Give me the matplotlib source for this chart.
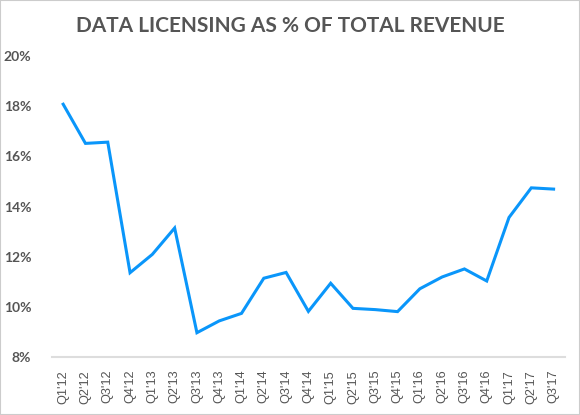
import matplotlib
matplotlib.use('Agg')
import matplotlib.pyplot as plt
from matplotlib.patches import Rectangle

# Data licensing share of revenue, by quarter
quarters = ["Q1'12", "Q2'12", "Q3'12", "Q4'12",
            "Q1'13", "Q2'13", "Q3'13", "Q4'13",
            "Q1'14", "Q2'14", "Q3'14", "Q4'14",
            "Q1'15", "Q2'15", "Q3'15", "Q4'15",
            "Q1'16", "Q2'16", "Q3'16", "Q4'16",
            "Q1'17", "Q2'17", "Q3'17"]
share = [18.08, 16.52, 16.57, 11.37,
         12.10, 13.15, 8.98, 9.45,
         9.75, 11.15, 11.38, 9.83,
         10.95, 9.95, 9.90, 9.82,
         10.73, 11.20, 11.52, 11.04,
         13.57, 14.75, 14.70]
yticks = [8, 10, 12, 14, 16, 18, 20]

fig = plt.figure(figsize=(5.8, 4.15), dpi=100)
ax = fig.add_axes([0.0897, 0.139, 0.884, 0.726])

x = list(range(len(quarters)))
ax.plot(x, share, color='#0A96FA', linewidth=2.2, solid_joinstyle='miter')

ax.set_xlim(-0.5, len(quarters) - 0.5)
ax.set_ylim(8, 20)
ax.set_yticks(yticks)
ax.set_yticklabels([f'{v}%' for v in yticks], fontfamily='Lato',
                   fontweight='bold', fontsize=10, color='#555555')
ax.set_xticks(x)
ax.set_xticklabels(quarters, rotation=90, fontfamily='Liberation Sans',
                   fontsize=9.2, color='#555555')
ax.tick_params(axis='y', length=0, pad=15)
ax.tick_params(axis='x', length=0, pad=9)

for s in ['top', 'right', 'left']:
    ax.spines[s].set_visible(False)
ax.spines['bottom'].set_color('#DDDDDD')
ax.spines['bottom'].set_linewidth(1.5)

fig.text(0.5, 0.938, 'DATA LICENSING AS % OF TOTAL REVENUE', ha='center',
         va='center', fontfamily='Lato', fontweight='bold', fontsize=15,
         color='#555555')

# light frame round the picture
fig.patches.append(Rectangle((0, 0), 1, 1, transform=fig.transFigure,
                             fill=False, edgecolor='#CCCCCC', linewidth=1.5))

fig.savefig('out.png', dpi=100)
